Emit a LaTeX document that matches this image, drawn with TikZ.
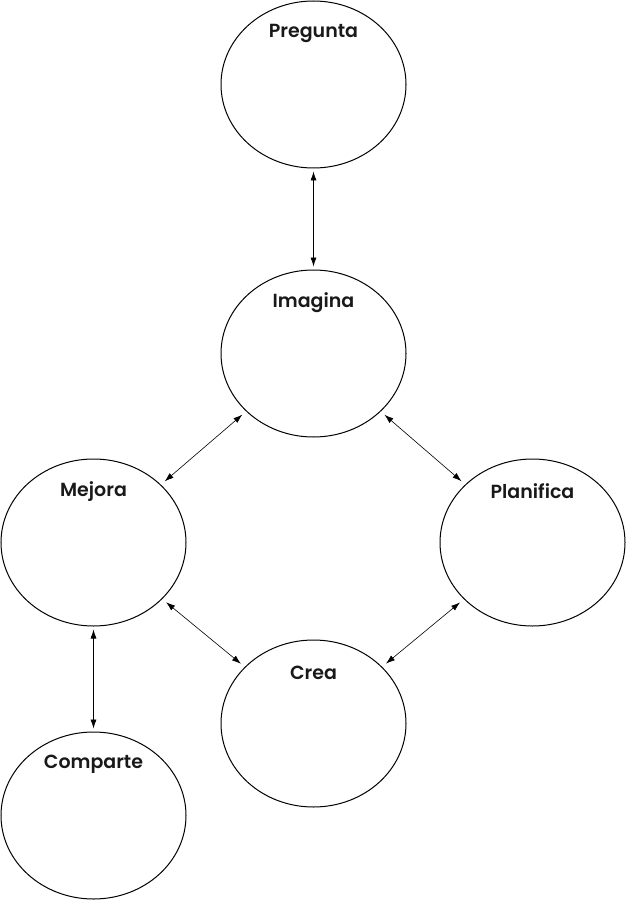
\documentclass[tikz,border=0pt]{standalone}
\usepackage{fontspec}
\newfontfamily\labfont{Poppins SemiBold}
\usetikzlibrary{shapes.geometric,arrows.meta}
\tikzset{
  stage/.style={draw, line width=1pt, ellipse, minimum width=185pt, minimum height=167pt, inner sep=0pt},
  lab/.style={font=\labfont\fontsize{19}{21}\selectfont, text=black!90},
  link/.style={line width=0.6pt, {Latex[length=9pt,width=6pt]}-{Latex[length=9pt,width=6pt]}, shorten <=3pt, shorten >=3pt},
  dlink/.style={link, shorten <=5pt, shorten >=5pt}
}
\begin{document}
\begin{tikzpicture}[x=1pt,y=-1pt]
\useasboundingbox (0,0) rectangle (626,901);
\node[stage] (preg) at (313.5,84.5) {};
\node[stage] (imag) at (313.5,353.5) {};
\node[stage] (mej) at (93.5,542.5) {};
\node[stage] (plan) at (532.5,542.5) {};
\node[stage] (crea) at (313.5,723.5) {};
\node[stage] (comp) at (93.5,815.5) {};
\node[lab] (tpreg) at (313.5,33.5) {Pregunta};
\node[lab] (timag) at (313.5,302.5) {Imagina};
\node[lab] (tmej) at (93.5,491.5) {Mejora};
\node[lab] (tplan) at (532.5,491.5) {Planifica};
\node[lab] (tcrea) at (313.5,672.5) {Crea};
\node[lab] (tcomp) at (93.5,764.5) {Comparte};
\draw[link] (preg) -- (imag);
\draw[dlink] (imag) -- (mej);
\draw[dlink] (imag) -- (plan);
\draw[dlink] (mej) -- (crea);
\draw[dlink] (crea) -- (plan);
\draw[link] (mej) -- (comp);
\end{tikzpicture}
\end{document}
